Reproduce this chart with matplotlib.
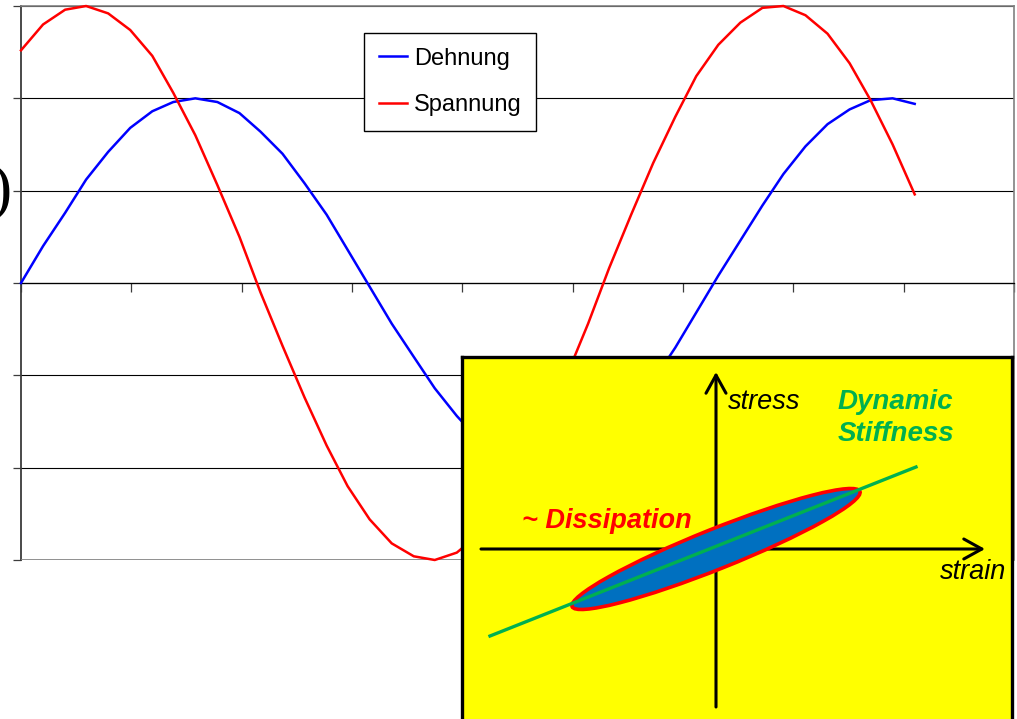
"""
Dehnung / Spannung over time, with the stress-strain loop sketch as inset
"""

import matplotlib
matplotlib.use('Agg')
import matplotlib.pyplot as plt
from matplotlib.patches import Ellipse

plt.rcParams['font.family'] = ['Liberation Sans', 'DejaVu Sans']

# time axis (rad) and the two curves
t = [0.00, 0.20, 0.40, 0.59, 0.79, 0.99, 1.19, 1.38, 1.58, 1.78,
     1.98, 2.17, 2.37, 2.57, 2.77, 2.96, 3.16, 3.36, 3.56, 3.75,
     3.95, 4.15, 4.35, 4.54, 4.74, 4.94, 5.14, 5.33, 5.53, 5.73,
     5.93, 6.12, 6.32, 6.52, 6.72, 6.91, 7.11, 7.31, 7.51, 7.70,
     7.90, 8.10]
dehnung = [0.00, 0.20, 0.38, 0.56, 0.71, 0.84, 0.93, 0.98, 1.00, 0.98,
           0.92, 0.82, 0.70, 0.54, 0.37, 0.18, -0.02, -0.22, -0.40, -0.57,
           -0.72, -0.85, -0.93, -0.99, -1.00, -0.97, -0.91, -0.81, -0.68, -0.53,
           -0.35, -0.16, 0.04, 0.23, 0.42, 0.59, 0.74, 0.86, 0.94, 0.99,
           1.00, 0.97]
spannung = [1.26, 1.40, 1.48, 1.50, 1.46, 1.37, 1.23, 1.03, 0.80, 0.53,
            0.25, -0.05, -0.34, -0.62, -0.88, -1.10, -1.28, -1.41, -1.48, -1.50,
            -1.46, -1.36, -1.21, -1.01, -0.77, -0.51, -0.22, 0.08, 0.37, 0.65,
            0.90, 1.12, 1.29, 1.41, 1.49, 1.50, 1.45, 1.35, 1.19, 0.99,
            0.75, 0.48]
x_ticks = [0, 1, 2, 3, 4, 5, 6, 7, 8, 9]
y_ticks = [-1.5, -1.0, -0.5, 0.0, 0.5, 1.0, 1.5]

# inset sketch (units = pixels from the axis crossing)
strain_axis = [-235, 269]
stress_axis = [-158, 177]
stiffness_x = [-226, 200]
stiffness_y = [-87, 82]
loop_width = 310
loop_height = 40
loop_angle = 21.8

W, H = 1017, 719
fig = plt.figure(figsize=(W / 100, H / 100), dpi=100)
ax = fig.add_axes([21 / W, 1 - 560 / H, 993 / W, 554 / H])

ax.plot(t, dehnung, color='#0000FF', lw=1.8, label='Dehnung', zorder=3, clip_on=False)
ax.plot(t, spannung, color='#FF0000', lw=1.8, label='Spannung', zorder=3, clip_on=False)

ax.set_xlim(0, 9)
ax.set_ylim(-1.5, 1.5)
ax.set_xticks(x_ticks)
ax.set_yticks(y_ticks)
ax.set_xticklabels([])
ax.set_yticklabels([])
ax.grid(axis='y', color='black', lw=0.8)
ax.set_axisbelow(True)
ax.axhline(-1.5, color='#808080', lw=1.2, zorder=2.6)

ax.spines['bottom'].set_position(('data', 0))
ax.spines['bottom'].set_color('black')
ax.spines['bottom'].set_linewidth(0.9)
ax.spines['left'].set_color('#3c3c3c')
ax.spines['left'].set_linewidth(1.3)
for s in ['top', 'right']:
    ax.spines[s].set_color('#808080')
    ax.spines[s].set_linewidth(1.2)
ax.tick_params(axis='x', direction='out', length=6.5, width=0.9, color='#3c3c3c')
ax.tick_params(axis='y', direction='out', length=6, width=0.9, color='#3c3c3c')

leg = ax.legend(loc='upper left', bbox_to_anchor=(364 / W, 1 - 33 / H),
                bbox_transform=fig.transFigure, fancybox=False, framealpha=1,
                edgecolor='black', fontsize=17, handlelength=1.2,
                handletextpad=0.3, borderpad=0.62, labelspacing=1.05,
                borderaxespad=0)
leg.get_frame().set_linewidth(1.0)

# cut-off y label on the left edge
fig.text(12 / W, 1 - 192 / H, ')', family='Liberation Serif', fontsize=46,
         ha='right', va='center')

# inset: stress-strain loop
ins = fig.add_axes([462 / W, 0, 550 / W, 362 / H])
ins.set_facecolor('#FFFF00')
ins.set_xlim(-254, 296)
ins.set_ylim(-170, 192)
ins.set_xticks([])
ins.set_yticks([])
for s in ['top', 'left', 'right']:
    ins.spines[s].set_color('black')
    ins.spines[s].set_linewidth(2.4)
ins.spines['bottom'].set_visible(False)

arrow = dict(arrowstyle='->,head_length=1.3,head_width=0.72', lw=2.2,
             color='black', shrinkA=0, shrinkB=0)
ins.annotate('', xy=(strain_axis[1], 0), xytext=(strain_axis[0], 0), arrowprops=arrow)
ins.annotate('', xy=(0, stress_axis[1]), xytext=(0, stress_axis[0]), arrowprops=arrow)

ins.add_patch(Ellipse((0, 0), loop_width, loop_height, angle=loop_angle,
                      facecolor='#0070C0', edgecolor='#FF0000', lw=2.6, zorder=3))
ins.plot(stiffness_x, stiffness_y, color='#00B050', lw=2.4, zorder=4)

ins.text(12, 147, 'stress', style='italic', fontsize=19.5, ha='left', va='center')
ins.text(122, 147, 'Dynamic', style='italic', weight='bold', color='#00B050',
         fontsize=20, ha='left', va='center')
ins.text(122, 115, 'Stiffness', style='italic', weight='bold', color='#00B050',
         fontsize=20, ha='left', va='center')
ins.text(-194, 28, '~ Dissipation', style='italic', weight='bold', color='#FF0000',
         fontsize=19.5, ha='left', va='center')
ins.text(224, -23, 'strain', style='italic', fontsize=19.5, ha='left', va='center')

fig.savefig('out.png', dpi=100)
